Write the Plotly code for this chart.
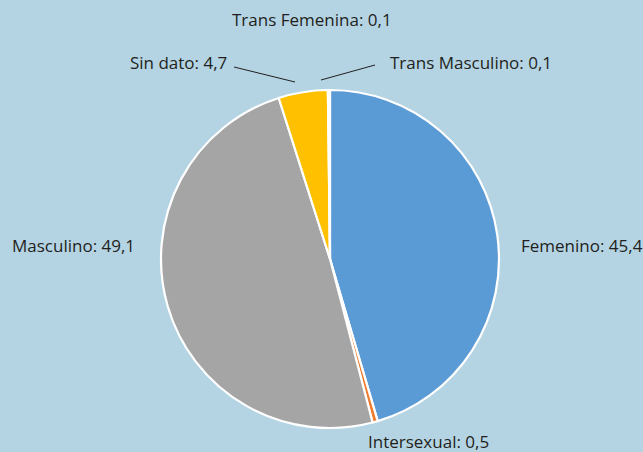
import plotly.graph_objects as go

categories = ["Femenino", "Intersexual", "Masculino", "Sin dato", "Trans Femenina", "Trans Masculino"]
values = [45.4, 0.5, 49.1, 4.7, 0.1, 0.1]
colors = ["#5b9bd5", "#ed7d31", "#a5a5a5", "#ffc000", "#5b9bd5", "#ed7d31"]

W, H = 643, 452

def px(x):
    return x / W

def py(y):
    return 1 - y / H

# label placement (pixel coords) : (x, y, xanchor)
label_pos = {
    "Femenino": (519, 245, "left"),
    "Intersexual": (366, 441, "left"),
    "Masculino": (10, 245, "left"),
    "Sin dato": (229, 63, "right"),
    "Trans Femenina": (312, 20, "center"),
    "Trans Masculino": (388, 63, "left"),
}
leaders = [((234, 67), (295, 82)), ((321, 80), (375, 65))]

fig = go.Figure(go.Pie(
    labels=categories,
    values=values,
    sort=False,
    direction="clockwise",
    rotation=0,
    marker=dict(colors=colors, line=dict(color="white", width=2.2)),
    textinfo="none",
    hoverinfo="label+value",
    showlegend=False,
    domain=dict(x=[px(161), px(499)], y=[py(428), py(90)]),
))

annotations = []
for c, v in zip(categories, values):
    x, y, xa = label_pos[c]
    annotations.append(dict(
        x=px(x), y=py(y), xref="paper", yref="paper",
        text=f"{c}: {v:.1f}".replace(".", ","),
        showarrow=False, xanchor=xa, yanchor="middle",
        font=dict(family="Open Sans", size=17, color="#231f20"),
    ))

shapes = []
for (x0, y0), (x1, y1) in leaders:
    shapes.append(dict(type="line", xref="paper", yref="paper",
                       x0=px(x0), y0=py(y0), x1=px(x1), y1=py(y1),
                       line=dict(color="#231f20", width=1)))

fig.update_layout(
    width=W, height=H,
    margin=dict(l=0, r=0, t=0, b=0),
    paper_bgcolor="#b4d4e4",
    plot_bgcolor="#b4d4e4",
    annotations=annotations,
    shapes=shapes,
)

fig.write_html(
    "out.html",
    config={"displayModeBar": False},
    post_script="document.body.style.margin='0px';document.body.style.padding='0px';document.body.style.overflow='hidden';",
)
